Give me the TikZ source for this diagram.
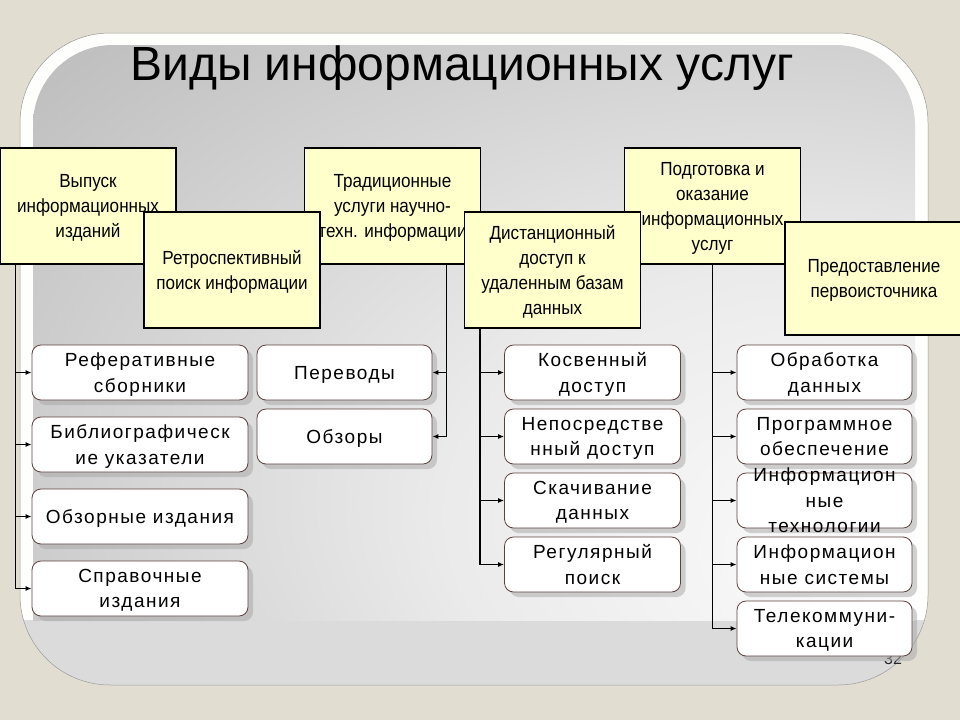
\documentclass[tikz,border=0pt]{standalone}
\usepackage{fontspec}
\setmainfont{Liberation Sans}
\newfontfamily\boxfont[FakeStretch=0.9]{Liberation Sans}
\newfontfamily\itemfont[LetterSpace=8]{Liberation Sans}
\usetikzlibrary{arrows.meta, shadows}

\definecolor{pagebg}{RGB}{225,222,209}
\definecolor{boxyellow}{RGB}{255,255,204}
\definecolor{itemline}{RGB}{95,65,65}
\pgfdeclareradialshading{fieldshade}{\pgfpoint{28bp}{-22bp}}{color(0bp)=(white); color(22bp)=(white!92!black); color(55bp)=(black!30); color(80bp)=(black!42)}

\begin{document}
\begin{tikzpicture}[x=1pt,y=-1pt,
  topbox/.style={draw=black, line width=1.1pt, fill=boxyellow, minimum width=176pt, minimum height=116pt, inner sep=2pt, align=center, font=\boxfont\fontsize{19}{25}\selectfont, text depth=-2pt},
  itembox/.style={draw=itemline, line width=0.8pt, fill=white, rounded corners=9pt, minimum height=55pt, inner sep=1pt, align=center, font=\itemfont\fontsize{19}{25.5}\selectfont, text depth=-6pt, drop shadow={shadow xshift=5pt, shadow yshift=-5pt, fill=black!35, opacity=0.5}},
  wideitem/.style={itembox, minimum width=216pt},
  narrowitem/.style={itembox, minimum width=176pt},
  itemtext/.style={inner sep=0pt, align=center, font=\itemfont\fontsize{19}{25.5}\selectfont},
  link/.style={line width=1.2pt, -{Latex[length=6pt,width=5pt]}}
]
\clip (0,0) rectangle (960,720);
\fill[pagebg] (0,0) rectangle (960,720);

% slide frame
\fill[white!96!pagebg, rounded corners=90pt] (20,33) rectangle (928,685);
\begin{scope}
  \clip[rounded corners=90pt] (20,33) rectangle (928,685);
  \fill[black!14] (0,620) rectangle (960,720);
\end{scope}
\begin{scope}
  \clip[rounded corners=80pt] (33,45) rectangle (915,800);
  \shade[shading=fieldshade] (33,45) rectangle (915,620);
\end{scope}
\draw[black!40, line width=0.5pt, rounded corners=90pt] (20,33) rectangle (928,685);

\node[anchor=base, font=\fontsize{48}{58}\selectfont] (title) at (462,80) {Виды информационных услуг};
\node[font=\fontsize{16}{18}\selectfont, text=black!85] (pagenum) at (893,659) {32};

% main groups
\node[topbox] (vyp) at (88,206) {Выпуск\\информационных\\изданий};
\node[topbox] (trad) at (392.5,206) {Традиционные\\услуги научно-\\техн. информации};
\node[topbox] (podg) at (712.5,206) {Подготовка и\\оказание\\информационных\\услуг};
\node[topbox] (retro) at (232,270) {Ретроспективный\\поиск информации};
\node[topbox] (dist) at (552.5,270) {Дистанционный\\доступ к\\удаленным базам\\данных};
\node[topbox, minimum width=178pt, minimum height=113pt] (pred) at (874,278.5) {Предоставление\\первоисточника};

% services
\node[wideitem] (ref) at (140,372.5) {Реферативные\\сборники};
\node[wideitem] (bibl) at (140,444.5) {Библиографическ\\ие указатели};
\node[wideitem] (obzi) at (140,516.5) {Обзорные издания};
\node[wideitem] (sprav) at (140,588.5) {Справочные\\издания};

\node[narrowitem, minimum width=175pt] (perev) at (344.5,372.5) {Переводы};
\node[narrowitem, minimum width=175pt] (obzor) at (344.5,436.5) {Обзоры};

\node[narrowitem] (kosv) at (592.5,372.5) {Косвенный\\доступ};
\node[narrowitem] (neposr) at (592.5,436.5) {Непосредстве\\нный доступ};
\node[narrowitem] (skach) at (592.5,500.5) {Скачивание\\данных};
\node[narrowitem] (regul) at (592.5,564.5) {Регулярный\\поиск};

\node[narrowitem, minimum width=175pt] (obrab) at (824.5,372.5) {Обработка\\данных};
\node[narrowitem, minimum width=175pt] (progr) at (824.5,436.5) {Программное\\обеспечение};
\node[narrowitem, minimum width=175pt] (itech) at (824.5,500.5) {};
\node[itemtext] at (itech) {Информацион\\ные\\технологии};
\node[narrowitem, minimum width=175pt] (isys) at (824.5,564.5) {Информацион\\ные системы};
\node[narrowitem, minimum width=175pt] (telec) at (824.5,628.5) {Телекоммуни-\\кации};

% connectors
\coordinate (vypfoot) at ([xshift=16pt]vyp.south west);
\coordinate (tradfoot) at ([xshift=142.5pt]trad.south west);
\coordinate (distfoot) at ([xshift=16pt]dist.south west);
\draw[link] (vypfoot) |- (ref);
\draw[link] (vypfoot) |- (bibl);
\draw[link] (vypfoot) |- (obzi);
\draw[link] (vypfoot) |- (sprav);
\draw[link] (tradfoot) |- (perev);
\draw[link] (tradfoot) |- (obzor);
\draw[link] (distfoot) |- (kosv);
\draw[link] (distfoot) |- (neposr);
\draw[link] (distfoot) |- (skach);
\draw[link] (distfoot) |- (regul);
\draw[link] (podg.south) |- (obrab);
\draw[link] (podg.south) |- (progr);
\draw[link] (podg.south) |- (itech);
\draw[link] (podg.south) |- (isys);
\draw[link] (podg.south) |- (telec);
\end{tikzpicture}
\end{document}
